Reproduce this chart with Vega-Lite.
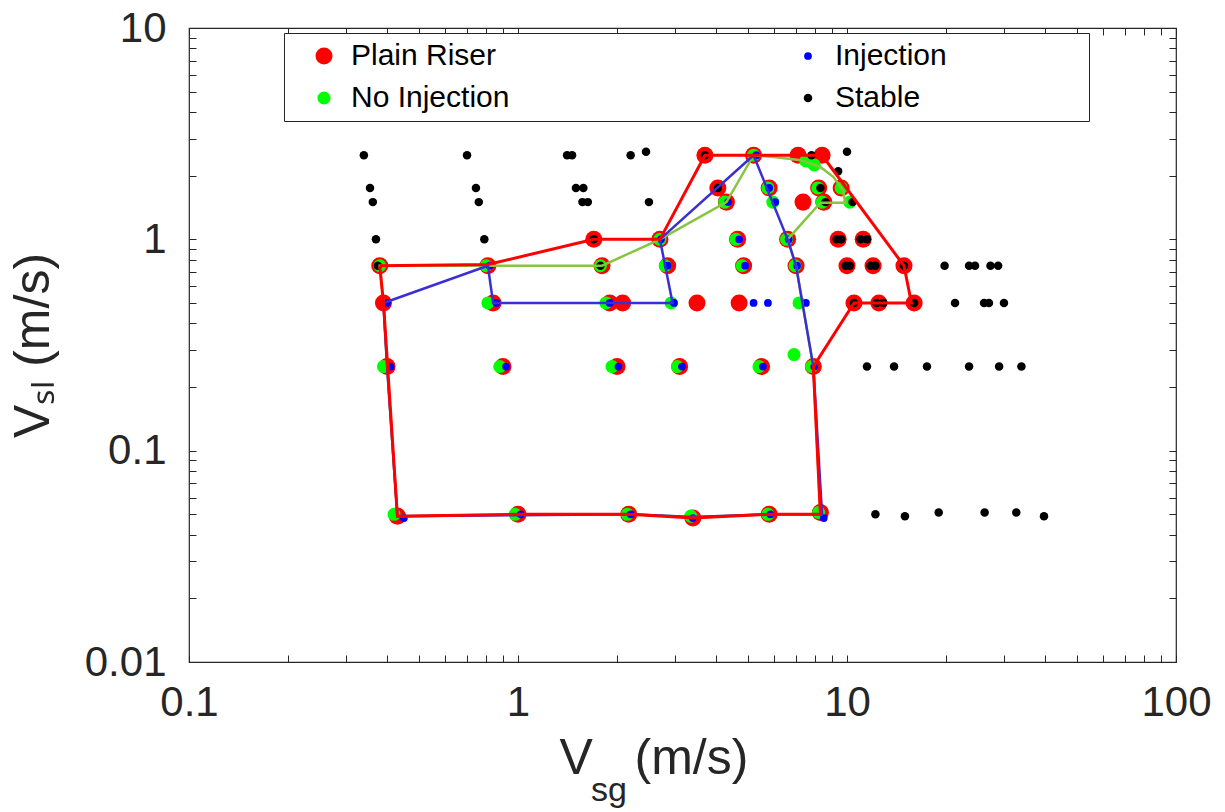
{
"$schema": "https://vega.github.io/schema/vega-lite/v6.json",
"width": 987, "height": 634,
"padding": {"left": 8, "top": 7, "right": 5, "bottom": 0},
"background": "white",
"title": {"text": "sg", "orient": "bottom", "anchor": "start", "frame": "group", "dx": 402, "dy": -9, "fontSize": 34, "font": "Liberation Sans", "fontWeight": "normal", "color": "#262626", "offset": 0},
"config": {
  "view": {"stroke": "#262626", "strokeWidth": 1.2},
  "axis": {"grid": false, "domain": false, "tickColor": "#262626", "tickSize": -7, "tickWidth": 1, "labelFont": "Liberation Sans", "labelFontSize": 42, "labelColor": "#262626", "titleFont": "Liberation Sans", "titleFontSize": 50, "titleFontWeight": "normal", "titleColor": "#262626", "labelFlush": false, "labelOverlap": false},
  "legend": {"orient": "none", "legendX": 95, "legendY": 5, "direction": "horizontal", "columns": 2, "columnPadding": 133, "rowPadding": 12, "padding": 8, "symbolOffset": 17, "strokeColor": "#262626", "fillColor": "white", "labelFont": "Liberation Sans", "labelFontSize": 30, "labelColor": "#000000", "labelOffset": 12, "symbolType": "circle", "symbolStrokeWidth": 0, "symbolOpacity": 1, "labelLimit": 600}
},
"datasets": {
"markers": [
{"vsg":3.7,"vsl":2.5,"series":"Plain Riser"},{"vsg":5.2,"vsl":2.5,"series":"Plain Riser"},{"vsg":7.1,"vsl":2.5,"series":"Plain Riser"},{"vsg":8.4,"vsl":2.5,"series":"Plain Riser"},
{"vsg":4.05,"vsl":1.75,"series":"Plain Riser"},{"vsg":5.8,"vsl":1.75,"series":"Plain Riser"},{"vsg":8.2,"vsl":1.75,"series":"Plain Riser"},{"vsg":9.6,"vsl":1.75,"series":"Plain Riser"},
{"vsg":4.3,"vsl":1.5,"series":"Plain Riser"},{"vsg":7.35,"vsl":1.5,"series":"Plain Riser"},{"vsg":8.5,"vsl":1.5,"series":"Plain Riser"},
{"vsg":1.7,"vsl":1.0,"series":"Plain Riser"},{"vsg":2.7,"vsl":1.0,"series":"Plain Riser"},{"vsg":4.65,"vsl":1.0,"series":"Plain Riser"},{"vsg":6.6,"vsl":1.0,"series":"Plain Riser"},{"vsg":9.4,"vsl":1.0,"series":"Plain Riser"},{"vsg":11.2,"vsl":1.0,"series":"Plain Riser"},
{"vsg":0.38,"vsl":0.75,"series":"Plain Riser"},{"vsg":0.81,"vsl":0.75,"series":"Plain Riser"},{"vsg":1.8,"vsl":0.75,"series":"Plain Riser"},{"vsg":2.85,"vsl":0.75,"series":"Plain Riser"},{"vsg":4.85,"vsl":0.75,"series":"Plain Riser"},{"vsg":7.0,"vsl":0.75,"series":"Plain Riser"},{"vsg":10.0,"vsl":0.75,"series":"Plain Riser"},{"vsg":12.0,"vsl":0.75,"series":"Plain Riser"},{"vsg":14.9,"vsl":0.75,"series":"Plain Riser"},
{"vsg":0.39,"vsl":0.5,"series":"Plain Riser"},{"vsg":0.84,"vsl":0.5,"series":"Plain Riser"},{"vsg":1.9,"vsl":0.5,"series":"Plain Riser"},{"vsg":2.08,"vsl":0.5,"series":"Plain Riser"},{"vsg":3.5,"vsl":0.5,"series":"Plain Riser"},{"vsg":4.7,"vsl":0.5,"series":"Plain Riser"},{"vsg":10.5,"vsl":0.5,"series":"Plain Riser"},{"vsg":12.5,"vsl":0.5,"series":"Plain Riser"},{"vsg":16.0,"vsl":0.5,"series":"Plain Riser"},
{"vsg":0.4,"vsl":0.25,"series":"Plain Riser"},{"vsg":0.9,"vsl":0.25,"series":"Plain Riser"},{"vsg":2.0,"vsl":0.25,"series":"Plain Riser"},{"vsg":3.1,"vsl":0.25,"series":"Plain Riser"},{"vsg":5.5,"vsl":0.25,"series":"Plain Riser"},{"vsg":7.9,"vsl":0.25,"series":"Plain Riser"},
{"vsg":0.43,"vsl":0.049,"series":"Plain Riser"},{"vsg":1.0,"vsl":0.05,"series":"Plain Riser"},{"vsg":2.17,"vsl":0.05,"series":"Plain Riser"},{"vsg":3.4,"vsl":0.048,"series":"Plain Riser"},{"vsg":5.8,"vsl":0.05,"series":"Plain Riser"},{"vsg":8.3,"vsl":0.051,"series":"Plain Riser"},
{"vsg":5.2,"vsl":2.5,"series":"No Injection"},{"vsg":7.5,"vsl":2.35,"series":"No Injection"},{"vsg":7.95,"vsl":2.25,"series":"No Injection"},
{"vsg":5.75,"vsl":1.75,"series":"No Injection"},{"vsg":8.15,"vsl":1.75,"series":"No Injection"},{"vsg":9.6,"vsl":1.75,"series":"No Injection"},
{"vsg":4.25,"vsl":1.5,"series":"No Injection"},{"vsg":5.95,"vsl":1.5,"series":"No Injection"},{"vsg":8.4,"vsl":1.5,"series":"No Injection"},{"vsg":10.2,"vsl":1.5,"series":"No Injection"},
{"vsg":2.7,"vsl":1.0,"series":"No Injection"},{"vsg":4.6,"vsl":1.0,"series":"No Injection"},{"vsg":6.55,"vsl":1.0,"series":"No Injection"},
{"vsg":0.38,"vsl":0.75,"series":"No Injection"},{"vsg":0.8,"vsl":0.75,"series":"No Injection"},{"vsg":1.78,"vsl":0.75,"series":"No Injection"},{"vsg":2.8,"vsl":0.75,"series":"No Injection"},{"vsg":4.8,"vsl":0.75,"series":"No Injection"},{"vsg":6.95,"vsl":0.75,"series":"No Injection"},
{"vsg":0.81,"vsl":0.5,"series":"No Injection"},{"vsg":1.85,"vsl":0.5,"series":"No Injection"},{"vsg":2.92,"vsl":0.5,"series":"No Injection"},{"vsg":7.15,"vsl":0.5,"series":"No Injection"},
{"vsg":0.39,"vsl":0.25,"series":"No Injection"},{"vsg":0.88,"vsl":0.25,"series":"No Injection"},{"vsg":1.93,"vsl":0.25,"series":"No Injection"},{"vsg":3.05,"vsl":0.25,"series":"No Injection"},{"vsg":5.4,"vsl":0.25,"series":"No Injection"},{"vsg":6.9,"vsl":0.285,"series":"No Injection"},{"vsg":7.8,"vsl":0.25,"series":"No Injection"},
{"vsg":0.42,"vsl":0.05,"series":"No Injection"},{"vsg":0.98,"vsl":0.05,"series":"No Injection"},{"vsg":2.15,"vsl":0.05,"series":"No Injection"},{"vsg":3.35,"vsl":0.049,"series":"No Injection"},{"vsg":5.75,"vsl":0.05,"series":"No Injection"},{"vsg":8.2,"vsl":0.051,"series":"No Injection"},
{"vsg":5.3,"vsl":2.5,"series":"Injection"},{"vsg":5.8,"vsl":1.75,"series":"Injection"},{"vsg":4.35,"vsl":1.5,"series":"Injection"},{"vsg":6.05,"vsl":1.5,"series":"Injection"},
{"vsg":2.72,"vsl":1.0,"series":"Injection"},{"vsg":4.7,"vsl":1.0,"series":"Injection"},{"vsg":6.65,"vsl":1.0,"series":"Injection"},
{"vsg":0.82,"vsl":0.75,"series":"Injection"},{"vsg":2.85,"vsl":0.75,"series":"Injection"},{"vsg":4.9,"vsl":0.75,"series":"Injection"},{"vsg":7.05,"vsl":0.75,"series":"Injection"},
{"vsg":0.4,"vsl":0.5,"series":"Injection"},{"vsg":0.86,"vsl":0.5,"series":"Injection"},{"vsg":1.9,"vsl":0.5,"series":"Injection"},{"vsg":2.98,"vsl":0.5,"series":"Injection"},{"vsg":5.2,"vsl":0.5,"series":"Injection"},{"vsg":5.75,"vsl":0.5,"series":"Injection"},{"vsg":7.5,"vsl":0.5,"series":"Injection"},
{"vsg":0.41,"vsl":0.25,"series":"Injection"},{"vsg":0.92,"vsl":0.25,"series":"Injection"},{"vsg":2.02,"vsl":0.25,"series":"Injection"},{"vsg":3.15,"vsl":0.25,"series":"Injection"},{"vsg":5.55,"vsl":0.25,"series":"Injection"},{"vsg":7.95,"vsl":0.25,"series":"Injection"},
{"vsg":0.45,"vsl":0.048,"series":"Injection"},{"vsg":1.02,"vsl":0.05,"series":"Injection"},{"vsg":2.2,"vsl":0.05,"series":"Injection"},{"vsg":3.4,"vsl":0.048,"series":"Injection"},{"vsg":5.85,"vsl":0.05,"series":"Injection"},{"vsg":8.5,"vsl":0.048,"series":"Injection"},
{"vsg":0.34,"vsl":2.5,"series":"Stable"},{"vsg":0.7,"vsl":2.5,"series":"Stable"},{"vsg":1.41,"vsl":2.5,"series":"Stable"},{"vsg":1.46,"vsl":2.5,"series":"Stable"},{"vsg":2.2,"vsl":2.5,"series":"Stable"},{"vsg":2.45,"vsl":2.6,"series":"Stable"},{"vsg":3.7,"vsl":2.5,"series":"Stable"},{"vsg":7.8,"vsl":2.5,"series":"Stable"},{"vsg":10.0,"vsl":2.6,"series":"Stable"},{"vsg":9.4,"vsl":2.1,"series":"Stable"},
{"vsg":0.355,"vsl":1.75,"series":"Stable"},{"vsg":0.745,"vsl":1.75,"series":"Stable"},{"vsg":1.5,"vsl":1.75,"series":"Stable"},{"vsg":1.58,"vsl":1.75,"series":"Stable"},{"vsg":4.05,"vsl":1.75,"series":"Stable"},{"vsg":8.3,"vsl":1.75,"series":"Stable"},
{"vsg":0.362,"vsl":1.5,"series":"Stable"},{"vsg":0.76,"vsl":1.5,"series":"Stable"},{"vsg":1.57,"vsl":1.5,"series":"Stable"},{"vsg":1.63,"vsl":1.5,"series":"Stable"},{"vsg":2.5,"vsl":1.5,"series":"Stable"},{"vsg":8.6,"vsl":1.5,"series":"Stable"},{"vsg":10.4,"vsl":1.5,"series":"Stable"},
{"vsg":0.37,"vsl":1.0,"series":"Stable"},{"vsg":0.79,"vsl":1.0,"series":"Stable"},{"vsg":1.7,"vsl":1.0,"series":"Stable"},{"vsg":9.3,"vsl":1.0,"series":"Stable"},{"vsg":9.6,"vsl":1.0,"series":"Stable"},{"vsg":11.0,"vsl":1.0,"series":"Stable"},{"vsg":11.5,"vsl":1.0,"series":"Stable"},
{"vsg":0.375,"vsl":0.75,"series":"Stable"},{"vsg":1.78,"vsl":0.75,"series":"Stable"},{"vsg":9.9,"vsl":0.75,"series":"Stable"},{"vsg":10.2,"vsl":0.75,"series":"Stable"},{"vsg":11.8,"vsl":0.75,"series":"Stable"},{"vsg":12.2,"vsl":0.75,"series":"Stable"},{"vsg":14.9,"vsl":0.75,"series":"Stable"},{"vsg":19.8,"vsl":0.75,"series":"Stable"},{"vsg":23.5,"vsl":0.75,"series":"Stable"},{"vsg":24.5,"vsl":0.75,"series":"Stable"},{"vsg":27.3,"vsl":0.75,"series":"Stable"},{"vsg":28.8,"vsl":0.75,"series":"Stable"},
{"vsg":10.5,"vsl":0.5,"series":"Stable"},{"vsg":12.3,"vsl":0.5,"series":"Stable"},{"vsg":12.9,"vsl":0.5,"series":"Stable"},{"vsg":16.0,"vsl":0.5,"series":"Stable"},{"vsg":21.3,"vsl":0.5,"series":"Stable"},{"vsg":26.1,"vsl":0.5,"series":"Stable"},{"vsg":27.0,"vsl":0.5,"series":"Stable"},{"vsg":30.0,"vsl":0.5,"series":"Stable"},
{"vsg":11.5,"vsl":0.25,"series":"Stable"},{"vsg":13.9,"vsl":0.25,"series":"Stable"},{"vsg":17.5,"vsl":0.25,"series":"Stable"},{"vsg":23.5,"vsl":0.25,"series":"Stable"},{"vsg":29.0,"vsl":0.25,"series":"Stable"},{"vsg":33.9,"vsl":0.25,"series":"Stable"},
{"vsg":12.2,"vsl":0.05,"series":"Stable"},{"vsg":15.0,"vsl":0.049,"series":"Stable"},{"vsg":19.0,"vsl":0.051,"series":"Stable"},{"vsg":26.2,"vsl":0.051,"series":"Stable"},{"vsg":32.7,"vsl":0.051,"series":"Stable"},{"vsg":39.7,"vsl":0.049,"series":"Stable"}
],
"lines": [
{"boundary":"green","ord":1,"vsg":0.81,"vsl":0.75},{"boundary":"green","ord":2,"vsg":1.8,"vsl":0.75},{"boundary":"green","ord":3,"vsg":2.7,"vsl":1.0},{"boundary":"green","ord":4,"vsg":4.3,"vsl":1.5},{"boundary":"green","ord":5,"vsg":5.2,"vsl":2.5},{"boundary":"green","ord":6,"vsg":6.0,"vsl":2.45},{"boundary":"green","ord":7,"vsg":7.25,"vsl":2.37},{"boundary":"green","ord":8,"vsg":8.3,"vsl":2.2},{"boundary":"green","ord":9,"vsg":9.1,"vsl":1.97},{"boundary":"green","ord":10,"vsg":9.7,"vsl":1.71},{"boundary":"green","ord":11,"vsg":9.9,"vsl":1.49},{"boundary":"green","ord":12,"vsg":8.3,"vsl":1.49},{"boundary":"green","ord":13,"vsg":6.6,"vsl":1.0},{"boundary":"green","ord":14,"vsg":7.0,"vsl":0.75},{"boundary":"green","ord":15,"vsg":7.9,"vsl":0.25},{"boundary":"green","ord":16,"vsg":8.3,"vsl":0.05},{"boundary":"green","ord":17,"vsg":5.8,"vsl":0.05},{"boundary":"green","ord":18,"vsg":3.4,"vsl":0.0485},{"boundary":"green","ord":19,"vsg":2.2,"vsl":0.05},{"boundary":"green","ord":20,"vsg":1.0,"vsl":0.05},{"boundary":"green","ord":21,"vsg":0.43,"vsl":0.049},{"boundary":"green","ord":22,"vsg":0.4,"vsl":0.25},{"boundary":"green","ord":23,"vsg":0.39,"vsl":0.5},{"boundary":"green","ord":24,"vsg":0.38,"vsl":0.75},{"boundary":"green","ord":25,"vsg":0.81,"vsl":0.75},
{"boundary":"blue","ord":1,"vsg":0.39,"vsl":0.5},{"boundary":"blue","ord":2,"vsg":0.81,"vsl":0.75},{"boundary":"blue","ord":3,"vsg":0.84,"vsl":0.5},{"boundary":"blue","ord":4,"vsg":2.95,"vsl":0.5},{"boundary":"blue","ord":5,"vsg":2.7,"vsl":1.0},{"boundary":"blue","ord":6,"vsg":5.2,"vsl":2.5},{"boundary":"blue","ord":7,"vsg":6.6,"vsl":1.0},{"boundary":"blue","ord":8,"vsg":7.0,"vsl":0.75},{"boundary":"blue","ord":9,"vsg":7.9,"vsl":0.25},{"boundary":"blue","ord":10,"vsg":8.4,"vsl":0.05},{"boundary":"blue","ord":11,"vsg":5.8,"vsl":0.05},{"boundary":"blue","ord":12,"vsg":3.4,"vsl":0.0485},{"boundary":"blue","ord":13,"vsg":2.2,"vsl":0.05},{"boundary":"blue","ord":14,"vsg":1.0,"vsl":0.0495},{"boundary":"blue","ord":15,"vsg":0.43,"vsl":0.049},{"boundary":"blue","ord":16,"vsg":0.4,"vsl":0.25},{"boundary":"blue","ord":17,"vsg":0.39,"vsl":0.5},
{"boundary":"red","ord":1,"vsg":0.38,"vsl":0.75},{"boundary":"red","ord":2,"vsg":0.81,"vsl":0.76},{"boundary":"red","ord":3,"vsg":1.7,"vsl":1.0},{"boundary":"red","ord":4,"vsg":2.7,"vsl":1.0},{"boundary":"red","ord":5,"vsg":3.7,"vsl":2.5},{"boundary":"red","ord":6,"vsg":8.4,"vsl":2.5},{"boundary":"red","ord":7,"vsg":14.9,"vsl":0.75},{"boundary":"red","ord":8,"vsg":15.7,"vsl":0.5},{"boundary":"red","ord":9,"vsg":10.5,"vsl":0.5},{"boundary":"red","ord":10,"vsg":7.9,"vsl":0.25},{"boundary":"red","ord":11,"vsg":8.3,"vsl":0.05},{"boundary":"red","ord":12,"vsg":5.8,"vsl":0.05},{"boundary":"red","ord":13,"vsg":3.4,"vsl":0.048},{"boundary":"red","ord":14,"vsg":2.17,"vsl":0.05},{"boundary":"red","ord":15,"vsg":1.0,"vsl":0.05},{"boundary":"red","ord":16,"vsg":0.43,"vsl":0.049},{"boundary":"red","ord":17,"vsg":0.39,"vsl":0.5},{"boundary":"red","ord":18,"vsg":0.38,"vsl":0.75}
]
},
"layer": [
{
 "data": {"name": "markers"},
 "mark": {"type": "point", "filled": true, "opacity": 1, "strokeWidth": 0},
 "encoding": {
  "x": {"field": "vsg", "type": "quantitative", "scale": {"type": "log", "domain": [0.1, 100], "nice": false},
        "axis": {"orient": "bottom", "title": "V\u00a0\u00a0\u00a0(m/s)", "titleAnchor": "start", "titleAlign": "left", "titleX": 370, "values": [0.1,0.2,0.3,0.4,0.5,0.6,0.7,0.8,0.9,1,2,3,4,5,6,7,8,9,10,20,30,40,50,60,70,80,90,100], "format": "~g", "labelExpr": "indexof([0.1,1,10,100], datum.value) >= 0 ? datum.label : ''", "labelPadding": 27, "titlePadding": 10}},
  "y": {"field": "vsl", "type": "quantitative", "scale": {"type": "log", "domain": [0.01, 10], "nice": false},
        "axis": {"orient": "left", "title": "V\u209b\u2097 (m/s)", "values": [0.01,0.02,0.03,0.04,0.05,0.06,0.07,0.08,0.09,0.1,0.2,0.3,0.4,0.5,0.6,0.7,0.8,0.9,1,2,3,4,5,6,7,8,9,10], "format": "~g", "labelExpr": "indexof([0.01,0.1,1,10], datum.value) >= 0 ? datum.label : ''", "labelPadding": 30, "titlePadding": 26}},
  "color": {"field": "series", "type": "nominal", "scale": {"domain": ["Plain Riser", "Injection", "No Injection", "Stable"], "range": ["#ff0000", "#0000ff", "#00ff00", "#000000"]},
            "legend": {"title": null, "labelExpr": "datum.label + '\u00a0\u00a0\u00a0\u00a0\u00a0\u00a0\u00a0\u00a0\u00a0\u00a0\u00a0\u00a0\u00a0\u00a0\u00a0\u00a0\u200b'"}},
  "size": {"field": "series", "type": "nominal", "scale": {"type": "ordinal", "domain": ["Plain Riser", "Injection", "No Injection", "Stable"], "range": [290, 60, 170, 72]},
            "legend": {"title": null, "labelExpr": "datum.label + '\u00a0\u00a0\u00a0\u00a0\u00a0\u00a0\u00a0\u00a0\u00a0\u00a0\u00a0\u00a0\u00a0\u00a0\u00a0\u00a0\u200b'"}}
 }
},
{
 "data": {"name": "lines"},
 "transform": [{"filter": "datum.boundary === 'green'"}],
 "mark": {"type": "line", "color": "#86c540", "strokeWidth": 2.5},
 "encoding": {
  "x": {"field": "vsg", "type": "quantitative", "scale": {"type": "log", "domain": [0.1, 100], "nice": false},
        "axis": {"orient": "top", "title": null, "labels": false, "values": [0.1,0.2,0.3,0.4,0.5,0.6,0.7,0.8,0.9,1,2,3,4,5,6,7,8,9,10,20,30,40,50,60,70,80,90,100]}},
  "y": {"field": "vsl", "type": "quantitative", "scale": {"type": "log", "domain": [0.01, 10], "nice": false},
        "axis": {"orient": "right", "title": null, "labels": false, "values": [0.01,0.02,0.03,0.04,0.05,0.06,0.07,0.08,0.09,0.1,0.2,0.3,0.4,0.5,0.6,0.7,0.8,0.9,1,2,3,4,5,6,7,8,9,10]}},
  "order": {"field": "ord", "type": "quantitative"}
 }
},
{
 "data": {"name": "lines"},
 "transform": [{"filter": "datum.boundary === 'blue'"}],
 "mark": {"type": "line", "color": "#3a2fd6", "strokeWidth": 2.5},
 "encoding": {
  "x": {"field": "vsg", "type": "quantitative", "axis": null},
  "y": {"field": "vsl", "type": "quantitative", "axis": null},
  "order": {"field": "ord", "type": "quantitative"}
 }
},
{
 "data": {"name": "lines"},
 "transform": [{"filter": "datum.boundary === 'red'"}],
 "mark": {"type": "line", "color": "#ff0000", "strokeWidth": 3},
 "encoding": {
  "x": {"field": "vsg", "type": "quantitative", "axis": null},
  "y": {"field": "vsl", "type": "quantitative", "axis": null},
  "order": {"field": "ord", "type": "quantitative"}
 }
}
],
"resolve": {"axis": {"x": "independent", "y": "independent"}}
}
